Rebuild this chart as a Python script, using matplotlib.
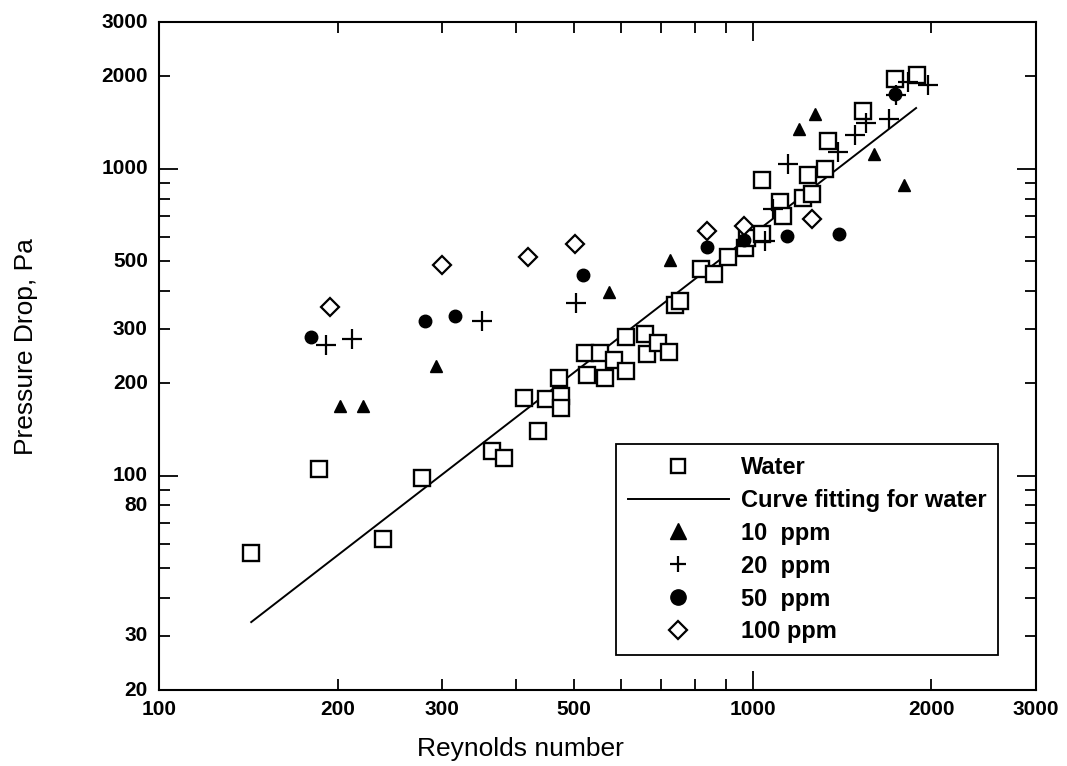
import matplotlib
matplotlib.use("Agg")
import matplotlib.pyplot as plt
from matplotlib.ticker import FixedLocator, NullFormatter
from matplotlib.transforms import offset_copy

# ---- data ----
water_re = [143, 186, 238, 277, 364, 381, 412, 435, 449, 472, 475, 475, 522, 526,
            553, 564, 584, 612, 612, 659, 663, 692, 723, 740, 755, 818, 861, 909,
            971, 978, 1037, 1037, 1111, 1124, 1216, 1256, 1237, 1324, 1340, 1534,
            1737, 1891]
water_dp = [56, 105, 62, 98, 120, 114, 179, 140, 178, 208, 182, 166, 251, 213,
            251, 208, 238, 283, 219, 289, 249, 270, 253, 359, 370, 473, 453, 514,
            550, 593, 921, 615, 781, 704, 805, 830, 956, 1000, 1233, 1543,
            1960, 2020]

fit_re = [143, 1884]
fit_dp = [33.3, 1578]

ppm10_re = [202, 221, 293, 573, 726, 1197, 1274, 1600, 1798]
ppm10_dp = [169, 169, 228, 396, 503, 1349, 1508, 1119, 887]

ppm20_re = [191, 211, 350, 504, 1049, 1082, 1147, 1392, 1487, 1552, 1697, 1743, 1827, 1973]
ppm20_dp = [266, 279, 319, 365, 580, 741, 1038, 1136, 1289, 1410, 1452, 1739, 1916, 1874]

ppm50_re = [180, 281, 315, 518, 838, 967, 1142, 1397, 1737]
ppm50_dp = [283, 319, 331, 449, 554, 584, 602, 615, 1752]

ppm100_re = [194, 300, 418, 502, 838, 967, 1259]
ppm100_dp = [354, 484, 514, 567, 629, 653, 688]

x_major = [100, 1000]
x_minor = [200, 300, 400, 500, 600, 700, 800, 900, 2000, 3000]
x_labels = [100, 200, 300, 500, 1000, 2000, 3000]
y_major = [100, 1000]
y_minor = [20, 30, 40, 50, 60, 70, 80, 90, 200, 300, 400, 500, 600, 700, 800, 900, 2000, 3000]
y_labels = [20, 30, 80, 100, 200, 300, 500, 1000, 2000, 3000]

plt.rcParams['font.family'] = ['Liberation Sans', 'DejaVu Sans']

fig = plt.figure(figsize=(10.67, 7.66), dpi=100)
ax = fig.add_axes([0.149, 0.0992, 0.822, 0.8715])
ax.set_xscale('log')
ax.set_yscale('log')
ax.set_xlim(100, 3000)
ax.set_ylim(20, 3000)

ax.plot(water_re, water_dp, linestyle='none', marker='s', ms=11.5, mfc='white',
        mec='black', mew=1.7, label='Water', zorder=3)
ax.plot(fit_re, fit_dp, color='black', lw=1.4, label='Curve fitting for water', zorder=2)
ax.plot(ppm10_re, ppm10_dp, linestyle='none', marker='^', ms=8.5, mfc='black',
        mec='black', label='10  ppm', zorder=4)
ax.plot(ppm20_re, ppm20_dp, linestyle='none', marker='+', ms=14, mew=1.6,
        color='black', label='20  ppm', zorder=4)
ax.plot(ppm50_re, ppm50_dp, linestyle='none', marker='o', ms=9, mfc='black',
        mec='black', label='50  ppm', zorder=4)
ax.plot(ppm100_re, ppm100_dp, linestyle='none', marker='D', ms=9, mfc='white',
        mec='black', mew=1.6, label='100 ppm', zorder=4)

# ticks
for axis, maj, mino in ((ax.xaxis, x_major, x_minor), (ax.yaxis, y_major, y_minor)):
    axis.set_major_locator(FixedLocator(maj))
    axis.set_minor_locator(FixedLocator(mino))
    axis.set_major_formatter(NullFormatter())
    axis.set_minor_formatter(NullFormatter())

ax.tick_params(which='both', direction='in', top=True, right=True, width=1.3,
               labelbottom=False, labelleft=False)
ax.tick_params(which='major', length=14)
ax.tick_params(which='minor', length=8)
for s in ax.spines.values():
    s.set_linewidth(1.5)

tfont = dict(fontsize=15, fontweight='bold')
xtr = offset_copy(ax.get_xaxis_transform(), fig=fig, x=0, y=-7, units='points')
for v in x_labels:
    ax.text(v, 0, str(v), transform=xtr, ha='center', va='top', **tfont)
ytr = offset_copy(ax.get_yaxis_transform(), fig=fig, x=-8, y=0, units='points')
for v in y_labels:
    ax.text(0, v, str(v), transform=ytr, ha='right', va='center', **tfont)

ax.set_xlabel('Reynolds number', fontsize=19)
ax.xaxis.set_label_coords(0.412, -0.071)
ax.set_ylabel('Pressure Drop, Pa', fontsize=19)
ax.yaxis.set_label_coords(-0.138, 0.514)

leg = ax.legend(loc='lower right', bbox_to_anchor=(0.957, 0.052), frameon=True,
                fancybox=False, edgecolor='black', framealpha=1,
                prop=dict(size=17, weight='bold'), handlelength=4.3,
                handletextpad=0.5, labelspacing=0.42, borderpad=0.5,
                borderaxespad=0)
leg.get_frame().set_linewidth(1.3)
leg_sizes = [10.5, None, 11, 12, 11, 9]
for h, s in zip(leg.legend_handles, leg_sizes):
    if s is not None:
        h.set_markersize(s)

fig.savefig('out.png', dpi=100)
